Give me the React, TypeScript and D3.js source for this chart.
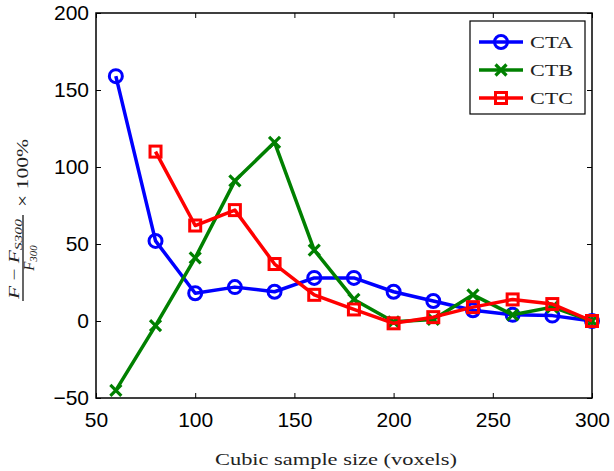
import React, { useRef, useEffect } from 'react';
import * as d3 from 'd3';

const sizes = [60, 80, 100, 120, 140, 160, 180, 200, 220, 240, 260, 280, 300];
const ctaValues = [159, 52, 18, 22, 19, 28, 28, 19, 13, 7, 4, 3.5, 0];
const ctbValues = [-45, -3, 41, 91, 116, 46, 14, -0.5, 1, 17, 4, 9, 0];
const ctcSizes = [80, 100, 120, 140, 160, 180, 200, 220, 240, 260, 280, 300];
const ctcValues = [110, 62, 72, 37, 17, 7.5, -1.5, 2.5, 9, 14, 11, 0];
const xTicks = [50, 100, 150, 200, 250, 300];
const yTicks = [-50, 0, 50, 100, 150, 200];

const series = [
  { name: 'CTA', color: '#0000ff', marker: 'circle', xs: sizes, ys: ctaValues },
  { name: 'CTB', color: '#008000', marker: 'cross', xs: sizes, ys: ctbValues },
  { name: 'CTC', color: '#ff0000', marker: 'square', xs: ctcSizes, ys: ctcValues },
];

const W = 614;
const H = 471;

const drawMarker = (g, type, x, y, color) => {
  if (type === 'circle') {
    g.append('circle').attr('cx', x).attr('cy', y).attr('r', 6.5)
      .attr('fill', 'none').attr('stroke', color).attr('stroke-width', 3);
  } else if (type === 'square') {
    g.append('rect').attr('x', x - 5.5).attr('y', y - 5.5).attr('width', 11).attr('height', 11)
      .attr('fill', 'none').attr('stroke', color).attr('stroke-width', 3);
  } else {
    const s = 5.5;
    g.append('path')
      .attr('d', `M${x - s},${y - s}L${x + s},${y + s}M${x - s},${y + s}L${x + s},${y - s}`)
      .attr('stroke', color).attr('stroke-width', 3.2).attr('fill', 'none');
  }
};

const App = () => {
  const ref = useRef(null);

  useEffect(() => {
    const margin = { top: 13, right: 22, bottom: 73, left: 96 };
    const width = W - margin.left - margin.right;
    const height = H - margin.top - margin.bottom;

    const root = d3.select(ref.current);
    root.selectAll('*').remove();

    const svg = root.append('g')
      .attr('transform', `translate(${margin.left},${margin.top})`);

    const x = d3.scaleLinear().domain([50, 300]).range([0, width]);
    const y = d3.scaleLinear().domain([-50, 200]).range([height, 0]);

    const font = '"Liberation Sans", Arial, sans-serif';
    const serif = '"Liberation Serif", "DejaVu Serif", serif';

    // axes with inward ticks, MATLAB style
    const styleAxis = (g) => {
      g.select('.domain').remove();
      g.selectAll('line').attr('stroke', '#000').attr('stroke-width', 1);
      g.selectAll('text').attr('font-family', font).attr('font-size', 21).attr('fill', '#000');
    };

    svg.append('g')
      .attr('transform', `translate(0,${height})`)
      .call(d3.axisBottom(x).tickValues(xTicks).tickSizeInner(-5).tickSizeOuter(0).tickPadding(14))
      .call(styleAxis);
    svg.append('g')
      .call(d3.axisTop(x).tickValues(xTicks).tickSizeInner(-5).tickSizeOuter(0).tickFormat(() => ''))
      .call(styleAxis);
    svg.append('g')
      .call(d3.axisLeft(y).tickValues(yTicks).tickSizeInner(-5).tickSizeOuter(0).tickPadding(7)
        .tickFormat(d => (d < 0 ? '\u2212' + Math.abs(d) : String(d))))
      .call(styleAxis);
    svg.append('g')
      .attr('transform', `translate(${width},0)`)
      .call(d3.axisRight(y).tickValues(yTicks).tickSizeInner(-5).tickSizeOuter(0).tickFormat(() => ''))
      .call(styleAxis);

    svg.append('rect')
      .attr('width', width).attr('height', height)
      .attr('fill', 'none').attr('stroke', '#000').attr('stroke-width', 1.5);

    const line = d3.line().x(d => x(d[0])).y(d => y(d[1]));

    series.forEach(s => {
      const pts = s.xs.map((v, i) => [v, s.ys[i]]);
      const g = svg.append('g');
      g.append('path').datum(pts)
        .attr('d', line)
        .attr('fill', 'none').attr('stroke', s.color).attr('stroke-width', 3.5)
        .attr('stroke-linejoin', 'round');
      pts.forEach(p => drawMarker(g, s.marker, x(p[0]), y(p[1]), s.color));
    });

    // legend
    const lg = svg.append('g').attr('transform', `translate(${470 - margin.left},${21 - margin.top})`);
    lg.append('rect').attr('width', 115).attr('height', 93)
      .attr('fill', '#fff').attr('stroke', '#000').attr('stroke-width', 1.2);
    series.forEach((s, i) => {
      const ly = 21 + i * 28;
      lg.append('line').attr('x1', 9).attr('x2', 53).attr('y1', ly).attr('y2', ly)
        .attr('stroke', s.color).attr('stroke-width', 3.5);
      drawMarker(lg, s.marker, 31, ly, s.color);
      lg.append('text').attr('x', 60).attr('y', ly + 6)
        .attr('font-family', serif).attr('font-size', 16)
        .attr('textLength', 43).attr('lengthAdjust', 'spacingAndGlyphs')
        .attr('fill', '#222').text(s.name);
    });

    // x label
    svg.append('text')
      .attr('x', 215 - margin.left).attr('y', height + 67)
      .attr('font-family', serif).attr('font-size', 17)
      .attr('textLength', 242).attr('lengthAdjust', 'spacingAndGlyphs')
      .attr('fill', '#222')
      .text('Cubic sample size (voxels)');

    // y label: fraction, rotated
    const yl = root.append('g').attr('transform', 'translate(23,258) rotate(-90)');
    const num = yl.append('text').attr('x', -41).attr('y', -4)
      .attr('font-family', serif).attr('font-size', 15).attr('fill', '#222')
      .attr('textLength', 80).attr('lengthAdjust', 'spacingAndGlyphs');
    num.append('tspan').attr('font-style', 'italic').text('F');
    num.append('tspan').text(' \u2212 ');
    num.append('tspan').attr('font-style', 'italic').text('F');
    num.append('tspan').attr('font-style', 'italic').attr('font-size', 11).attr('dy', 3).text('S300');
    yl.append('line').attr('x1', -43).attr('x2', 43).attr('y1', 0).attr('y2', 0)
      .attr('stroke', '#000').attr('stroke-width', 1.2);
    const den = yl.append('text').attr('x', 0).attr('y', 11).attr('text-anchor', 'middle')
      .attr('font-family', serif).attr('font-size', 15).attr('fill', '#222');
    den.append('tspan').attr('font-style', 'italic').text('F');
    den.append('tspan').attr('font-style', 'italic').attr('font-size', 11).attr('dy', 3).text('300');
    yl.append('text').attr('x', 51).attr('y', 5)
      .attr('font-family', serif).attr('font-size', 16).attr('fill', '#222')
      .attr('textLength', 68).attr('lengthAdjust', 'spacingAndGlyphs')
      .text('\u00d7 100%');
  }, []);

  return (
    <svg ref={ref} width={W} height={H}
      style={{ position: 'absolute', left: 0, top: 0, background: '#fff' }} />
  );
};

export default App;
